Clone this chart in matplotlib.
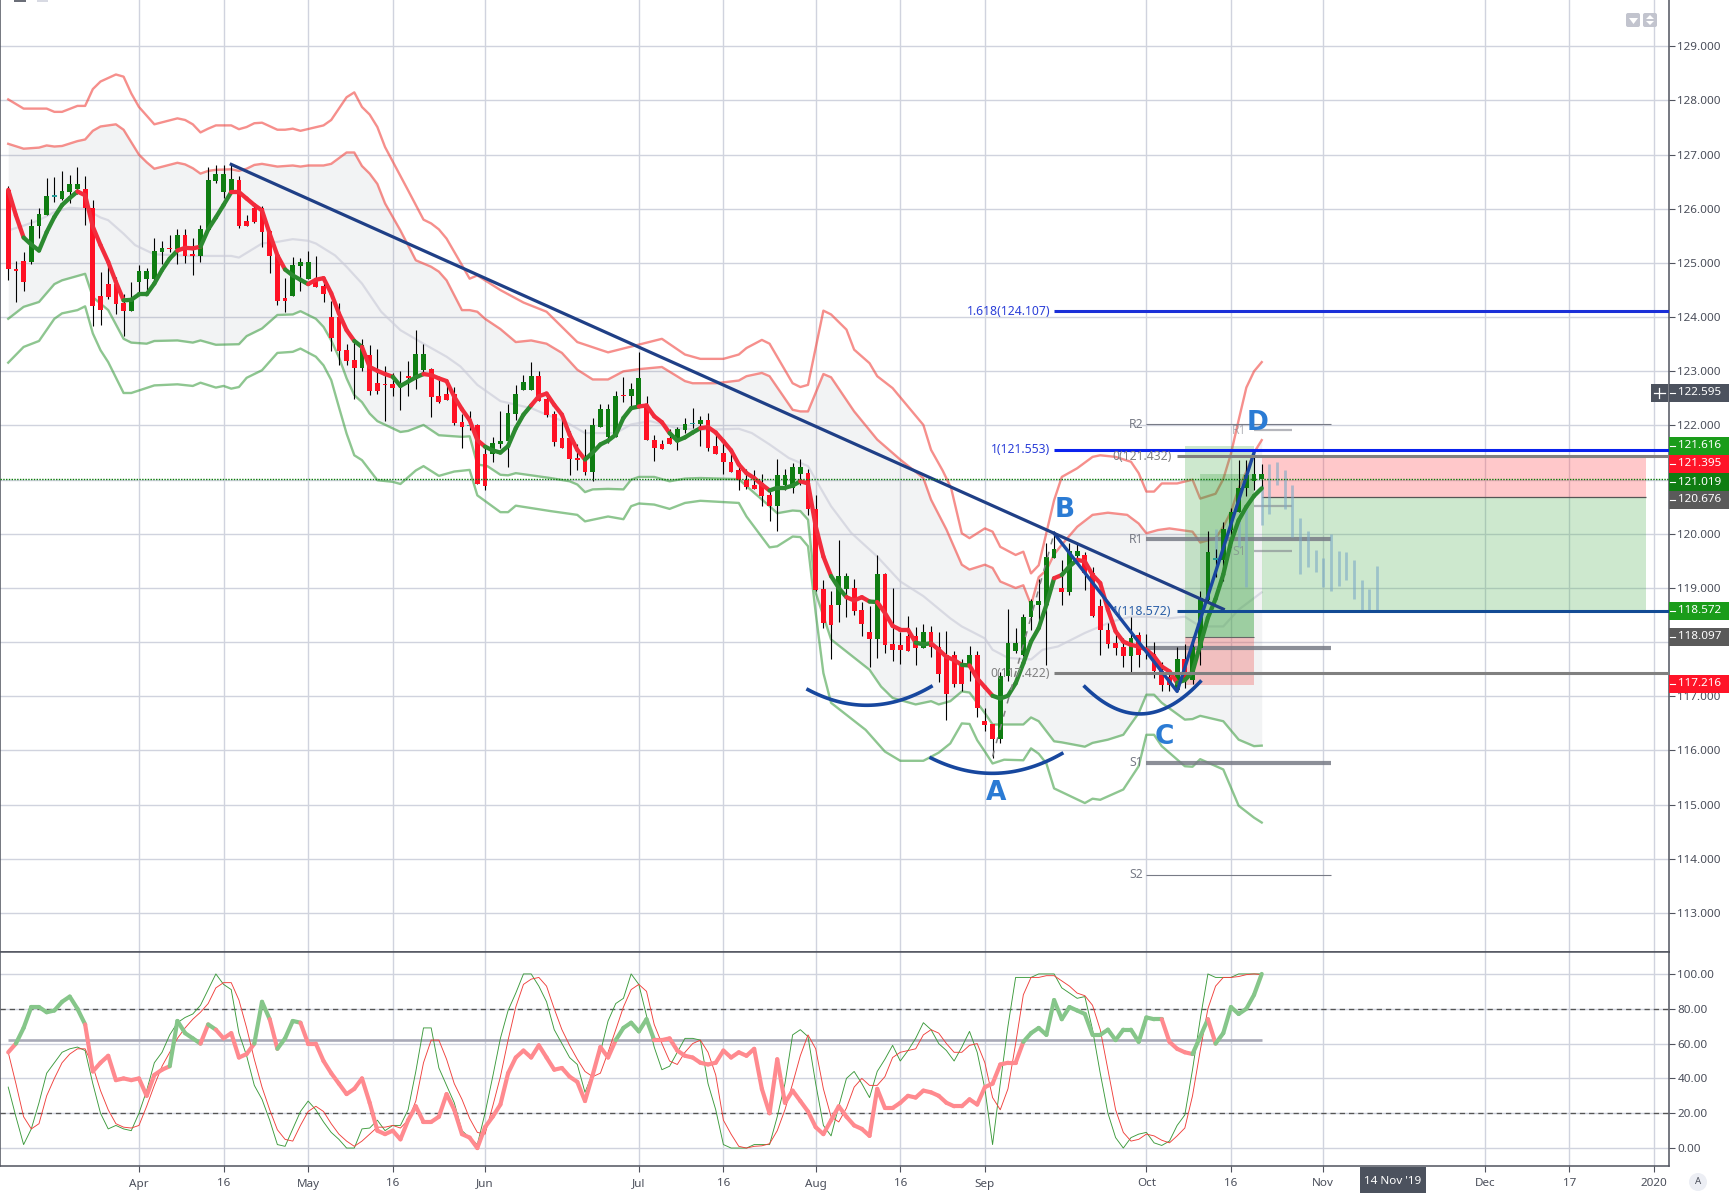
import numpy as np
import matplotlib
matplotlib.use('Agg')
import matplotlib.pyplot as plt
from matplotlib.collections import LineCollection
from matplotlib.patches import Rectangle, FancyBboxPatch, Polygon, Circle
from matplotlib.transforms import Affine2D

first_bar = -17

opens = [126.35,124.88,125.03,125.02,125.68,125.89,126.22,126.18,126.31,126.36,
         126.37,126.02,124.39,124.62,124.62,124.26,124.11,124.65,124.71,124.70,
         125.20,125.27,125.25,125.51,125.14,125.12,125.60,126.51,126.31,126.31,
         126.54,125.77,126.02,126.02,125.59,125.14,124.35,124.39,124.95,124.70,
         124.71,124.57,124.00,124.00,123.39,123.21,123.06,123.30,122.78,122.76,
         122.76,122.75,122.89,122.85,123.02,123.04,122.54,122.59,122.59,122.06,
         121.99,122.01,121.48,121.48,121.66,121.71,122.22,122.66,122.66,122.92,
         122.48,122.22,121.76,121.76,121.38,121.37,121.15,121.97,121.78,121.78,
         122.55,122.54,122.37,122.38,121.74,121.66,121.76,121.71,121.92,122.02,
         122.02,122.11,121.63,121.49,121.33,121.17,121.00,120.91,120.94,120.71,
         120.51,120.91,120.85,121.11,121.12,120.46,118.99,118.69,118.68,118.99,
         119.00,118.60,118.19,118.06,119.25,117.97,117.94,118.12,118.12,117.90,
         118.19,117.91,117.77,117.77,117.57,117.55,117.77,116.54,116.49,116.22,
         117.37,117.84,117.77,118.46,118.69,118.69,119.56,119.00,118.93,119.59,
         119.61,119.27,118.67,118.23,117.98,117.91,117.75,118.14,117.86,117.78,
         117.46,117.36,117.11,117.68,117.31,117.90,118.78,119.52,119.52,120.07,
         120.41,120.84,120.98,121.02]
highs = [126.43,125.03,125.20,125.82,126.02,126.56,126.58,126.69,126.62,126.78,
         126.60,126.17,124.83,125.01,124.74,124.42,124.64,124.96,124.90,125.46,
         125.40,125.51,125.62,125.62,125.46,125.71,126.77,126.80,126.80,126.82,
         126.60,125.89,126.07,126.06,125.60,125.23,124.72,125.11,125.09,125.23,
         125.12,124.65,124.29,124.26,123.51,123.55,123.60,123.48,123.41,123.09,
         122.96,123.00,123.19,123.76,123.51,123.07,122.84,122.81,122.71,122.21,
         122.26,122.02,121.64,121.79,122.27,122.40,122.74,122.94,123.17,123.01,
         122.57,122.27,122.14,121.89,121.66,121.94,122.14,122.40,122.40,122.64,
         122.90,122.78,123.36,122.55,121.82,121.74,121.94,121.98,122.14,122.32,
         122.17,122.23,121.86,121.68,121.49,121.25,121.20,121.18,121.11,120.82,
         121.38,121.20,121.31,121.38,121.20,120.72,119.14,118.95,119.89,119.28,
         119.17,118.75,118.66,119.60,119.28,119.00,118.18,118.49,118.28,118.34,
         118.30,118.18,118.21,117.84,117.69,117.93,117.83,116.78,116.49,117.44,
         118.61,118.26,118.52,118.79,119.16,119.83,120.01,119.52,119.83,119.83,
         119.66,119.38,118.79,118.35,118.22,118.07,118.47,118.18,118.15,118.01,
         117.64,117.46,117.91,117.97,118.11,118.94,120.06,119.72,120.22,120.47,
         121.36,121.36,121.50,121.29]
lows = [124.68,124.28,124.48,124.99,125.47,125.89,126.13,126.17,126.11,126.28,
        125.71,123.84,123.85,124.34,124.05,123.65,124.11,124.44,124.44,124.62,
        124.98,125.20,124.99,125.00,124.78,125.01,125.60,126.48,126.20,126.27,
        125.65,125.68,125.73,125.30,124.82,124.22,124.10,124.39,124.48,124.70,
        124.55,124.28,123.37,123.11,123.11,122.49,123.01,122.56,122.59,122.08,
        122.55,122.28,122.55,122.67,122.93,122.16,122.42,122.47,122.01,121.59,
        121.91,120.92,120.80,121.32,121.58,121.23,122.11,122.65,122.66,122.46,
        122.15,121.62,121.59,121.08,121.18,121.09,120.97,121.97,121.68,121.78,
        122.43,122.29,122.37,121.73,121.34,121.57,121.65,121.54,121.87,121.95,
        121.63,121.52,121.48,121.11,121.15,120.80,120.82,120.82,120.51,120.23,
        120.06,120.80,120.75,120.91,120.35,118.94,118.27,117.68,118.38,118.46,
        118.51,118.11,117.54,117.71,117.80,117.65,117.60,117.83,117.58,117.89,
        117.73,117.27,116.56,117.17,117.10,117.28,116.62,116.36,115.86,116.14,
        117.29,117.80,117.74,118.23,118.29,117.57,119.56,118.69,118.87,119.45,
        118.97,118.47,117.77,117.90,117.77,117.54,117.45,117.55,117.69,117.34,
        117.09,117.09,117.09,117.15,117.22,117.58,118.75,119.21,119.12,119.76,
        120.41,120.69,120.80,120.84]
closes = [124.88,124.85,124.65,125.69,125.90,126.23,126.22,126.32,126.45,126.45,
          126.02,124.21,124.13,124.37,124.24,124.11,124.34,124.85,124.85,125.22,
          125.27,125.25,125.51,125.12,125.13,125.62,126.54,126.64,126.64,126.55,
          125.68,125.68,125.75,125.57,125.12,124.29,124.29,124.96,125.01,125.01,
          124.55,124.42,123.61,123.37,123.19,123.06,123.49,122.63,122.63,122.74,
          122.70,122.75,122.88,123.32,123.32,122.53,122.43,122.47,122.05,121.98,
          121.99,120.92,120.89,121.68,121.72,122.23,122.59,122.81,122.92,122.46,
          122.20,121.69,121.59,121.38,121.37,121.15,122.00,122.31,122.31,122.55,
          122.54,122.68,122.88,121.73,121.58,121.57,121.65,121.94,122.02,122.02,
          122.11,121.59,121.48,121.32,121.15,120.99,120.86,120.82,120.69,120.51,
          121.09,121.09,121.23,121.23,120.45,118.97,118.35,118.32,119.23,119.23,
          118.58,118.34,118.06,119.25,117.95,117.86,117.86,117.83,117.90,118.19,
          117.91,117.41,117.04,117.23,117.23,117.77,116.79,116.47,116.22,117.38,
          117.98,117.98,118.46,118.76,118.76,119.58,119.72,118.93,119.68,119.68,
          119.27,118.49,118.22,117.97,117.90,117.75,118.07,117.77,117.85,117.46,
          117.20,117.20,117.68,117.31,117.91,118.81,119.66,119.52,120.08,120.41,
          120.84,121.08,121.10,121.10]

ma_line = [126.35,125.88,125.47,125.34,125.23,125.57,125.85,126.07,126.20,126.32,
           126.25,125.67,125.33,125.02,124.65,124.31,124.32,124.42,124.42,124.62,
           124.87,125.08,125.23,125.28,125.27,125.30,125.62,125.84,126.07,126.31,
           126.31,126.19,126.07,125.97,125.54,125.14,124.88,124.77,124.69,124.61,
           124.69,124.72,124.44,124.07,123.76,123.56,123.45,123.08,123.01,122.95,
           122.90,122.73,122.81,122.89,122.95,122.93,122.87,122.82,122.53,122.30,
           122.10,121.73,121.61,121.54,121.50,121.62,121.95,122.20,122.37,122.54,
           122.59,122.38,122.20,121.83,121.55,121.37,121.50,121.65,121.72,121.83,
           122.14,122.32,122.35,122.37,122.17,122.06,121.86,121.72,121.78,121.87,
           121.95,121.97,121.87,121.71,121.54,121.28,121.12,121.03,120.91,120.80,
           120.85,120.85,120.89,120.97,120.93,120.14,119.58,119.22,119.00,118.83,
           118.77,118.83,118.75,118.74,118.54,118.30,118.23,118.23,117.99,117.96,
           117.98,117.86,117.73,117.67,117.58,117.57,117.33,117.17,117.01,116.96,
           117.01,117.24,117.61,118.01,118.26,118.69,119.18,119.24,119.40,119.52,
           119.49,119.24,119.09,118.60,118.20,118.01,117.95,117.92,117.86,117.74,
           117.55,117.46,117.25,117.30,117.45,117.95,118.45,118.80,119.25,119.85,
           120.25,120.50,120.70,120.84]
ma_green_spans = [(-15,-8),(-2,5),(8,12),(19,22),(28,29),(33,37),(45,51),(58,65),(69,73),
                  (82,86),(90,92),(95,96),(101,103),(107,108),(111,119),(120,122),(135,146)]

outer_up_x = [-17,-15,-12,-11,-10,-8,-7,-6,-5,-3,-2,-1,0,1,2,5,6,7,8,9,10,12,13,14,15,16,18,19,20,21,24,25,27,28,29,30,31,32,
              35,37,38,39,40,42,43,44,47,50,53,55,57,61,68,71,73,76,78,79,81,82,85,86,87,89,90,92,93,95,96,98,102,103,104.5,
              105.6,107,108,110,111,112,114,115,116,117,119,120,122,124,125,127,129,130,131,132,133,135,137,138,140,141,142,143,144,145,146]
outer_up = [128.02,127.85,127.85,127.79,127.79,127.90,127.90,128.21,128.35,128.48,128.44,128.13,127.88,127.72,127.56,127.67,127.64,127.56,127.41,127.48,127.54,127.54,127.47,127.51,127.58,127.59,127.46,127.46,127.48,127.44,127.54,127.64,128.06,128.15,127.88,127.74,127.51,127.14,
            126.34,125.80,125.73,125.62,125.45,124.96,124.71,124.77,124.50,124.27,124.10,123.82,123.54,123.35,123.60,123.31,123.23,123.23,123.31,123.43,123.58,123.51,122.78,122.71,122.75,124.12,124.05,123.77,123.40,123.15,122.91,122.69,122.01,121.55,121.17,
            120.85,120.01,119.92,120.10,120.04,119.76,119.61,119.67,119.27,119.42,120.62,121.05,121.21,121.42,121.45,121.42,121.33,121.12,120.78,120.78,120.93,120.93,121.00,120.65,120.74,121.01,121.48,122.10,122.70,123.00,123.17]

inner_up_x = [-17,-15,-13,-12,-11,-10,-8,-7,-6,-5,-3,-2,-1,0,1,2,5,6,7,8,9,10,12,13,14,15,16,18,20,21,22,24,25,27,28,29,30,31,32,34,36,38,39,40,42,43,44,45,47,49,51,53,55,57,59,61,63,65,68,71,72,75,78,79,81,82,85,86,87,89,90,93,96,99,102,103,105,107,108,110,111,112,114,115,116,117,118,119,120,122,124,126,128.5,130,131,132.5,134,137,138,140,141,142,143,144,145,146]
inner_up = [127.20,127.11,127.13,127.17,127.15,127.16,127.25,127.28,127.44,127.52,127.56,127.46,127.23,127.00,126.86,126.74,126.85,126.82,126.75,126.65,126.70,126.72,126.73,126.70,126.74,126.81,126.83,126.78,126.80,126.78,126.80,126.80,126.83,127.04,127.04,126.79,126.65,126.46,126.10,125.60,125.05,124.93,124.84,124.68,124.13,124.13,124.10,123.97,123.78,123.54,123.57,123.51,123.34,123.03,122.85,122.85,123.00,123.04,123.08,122.82,122.78,122.78,122.83,122.91,122.97,122.91,122.29,122.26,122.26,122.95,122.89,122.26,121.74,121.37,121.03,120.63,120.08,119.43,119.34,119.43,119.37,119.12,119.00,119.05,118.69,119.20,119.33,119.62,119.80,120.13,120.35,120.39,120.35,120.19,120.01,120.07,120.10,120.04,119.84,119.92,120.13,120.41,120.84,121.15,121.50,121.73]

inner_low_x = [-17,-15,-13,-11,-10,-7,-6,-5,-4,-2,-1,1,2,5,7,8,10,13,14,16,18,20,21,23,24,25,26,27,28,29,30,31,34,35,37,39,42,43,44,45.3,47,48,49,53.5,56,57,58,59,61,63,64,65,67,69,71,73,78,79,82,83,85,86,87,88,90,95,96.5,98,101,103,104,105.5,107,108,110,111,115,116,117,119,120,123,124,126,128,130,131,132,133,136,137,138,141,143,145,146]
inner_low = [123.97,124.19,124.28,124.61,124.68,124.80,124.37,124.25,124.13,123.60,123.53,123.51,123.56,123.57,123.53,123.57,123.49,123.50,123.65,123.79,124.04,124.05,124.11,123.97,123.82,123.57,123.26,122.87,122.56,122.43,122.22,122.08,121.88,121.90,122.01,121.82,121.79,121.80,121.28,121.25,121.09,121.08,121.12,121.03,120.97,120.91,120.77,120.82,120.83,120.82,121.00,121.05,121.05,120.97,121.02,121.03,121.01,120.88,120.51,120.38,120.43,120.42,120.26,118.91,118.05,117.49,117.18,116.97,116.85,116.91,116.85,116.91,117.09,117.07,116.69,116.48,116.48,116.61,116.54,116.17,116.15,116.07,116.14,116.20,116.29,116.69,117.03,117.03,116.88,116.57,116.58,116.64,116.54,116.20,116.08,116.09]

outer_low_x = [-17,-15,-13,-11,-10,-8,-7,-6,-5,-4,-2,-1,2,5,7,8,10,11,12,13,14,16,18,20,21,23,24,25,26,27,28,29,31,33,34,36,37,39,41,43,44,47,48,49,53.5,56,57,58,61,63,64,65,67,69,71,73,78,79,82,83,85,86,87,88,89,90,94.5,97,99,102,104,105.5,107,108,109,110,111,112.5,115,116,117,118,119,123,124,125,128,130,131,132,133,136,137,138,141,143,145,146]
outer_low = [123.16,123.45,123.56,123.97,124.07,124.13,124.20,123.70,123.39,123.17,122.60,122.60,122.74,122.76,122.73,122.79,122.70,122.73,122.68,122.71,122.88,123.02,123.34,123.36,123.42,123.27,123.11,122.84,122.34,121.85,121.45,121.36,120.99,120.96,120.92,121.17,121.25,121.07,121.15,121.18,120.71,120.40,120.40,120.52,120.42,120.37,120.35,120.23,120.32,120.27,120.51,120.56,120.54,120.46,120.57,120.61,120.57,120.32,119.75,119.77,119.95,119.94,119.77,118.54,117.43,116.88,116.38,115.98,115.81,115.81,115.96,116.13,116.50,116.49,116.19,115.98,115.76,115.83,115.82,116.04,115.94,115.76,115.30,115.03,115.11,115.09,115.28,115.71,116.29,116.29,116.08,115.71,115.70,115.84,115.65,114.98,114.76,114.67]

mid_x = [-17,-15,-13,-11,-9,-7,-5,-4,-2,-0.5,2,7,12,13,14.5,16,18,20,22,23,25.5,27,29,31.5,34,37,40,41.8,44,47,51,53,55.7,58,62,64,66.5,70,73.5,78,79.7,82,84.5,87,88,90,92.6,96,99,102,105.5,107,110,111,113,116,117.5,119.5,123,126.5,129,131,134,136,138,141,143,146]
mid_band = [125.60,125.69,125.79,125.94,126.02,126.00,125.84,125.79,125.54,125.33,125.16,125.13,125.13,125.10,125.23,125.36,125.39,125.44,125.41,125.36,125.14,124.93,124.62,124.10,123.76,123.51,123.27,123.09,122.75,122.45,122.32,122.20,122.05,121.86,121.86,122.02,122.08,121.95,121.92,121.94,121.86,121.65,121.40,121.25,121.00,120.51,120.02,119.58,119.12,118.85,118.44,118.29,118.07,117.86,117.71,117.68,117.86,117.92,118.17,118.38,118.47,118.47,118.44,118.47,118.29,118.29,118.60,118.92]

trend_x = [12, 141]
trend_y = [126.82, 118.61]
zigzag_x = [119, 135, 145]
zigzag_y = [120.01, 117.09, 121.50]
xabcd_x = [111, 119, 135, 145]
xabcd_y = [115.89, 120.01, 117.09, 121.50]

arc_left_x = [87, 90.4, 95, 99, 103]
arc_left_y = [117.12, 116.93, 116.83, 116.93, 117.18]
arc_a_x = [103, 106.4, 110.7, 114.6, 120]
arc_a_y = [115.88, 115.64, 115.57, 115.67, 115.93]
arc_c_x = [123, 126, 130, 133, 138]
arc_c_y = [117.21, 116.79, 116.66, 116.81, 117.25]

# projected bars (idx, top, bottom)
ghost_x = [140,143,144,146,147,148,149,150,151,152,153,154,155,156,157,158,159,160,161]
ghost_top = [120.08,120.27,120.51,120.91,121.28,121.33,121.17,120.90,120.30,120.06,119.71,119.56,119.99,119.69,119.67,119.51,119.15,118.99,119.41]
ghost_bot = [119.49,119.76,119.02,120.17,120.36,120.90,120.45,119.94,119.25,119.38,119.29,119.01,118.94,119.03,119.15,118.80,118.57,118.57,118.57]

stoch_slow = [55,60,69,81,81,78,79,84,87,80,71,44,49,53,39,40,39,40,30,42,
              45,47,73,66,63,60,71,68,63,66,52,54,60,84,74,57,63,73,72,60,
              60,50,43,37,31,34,40,26,10,8,10,5,16,24,15,15,18,31,22,8,
              6,0,12,18,25,43,52,56,52,59,52,45,46,41,38,27,42,58,52,62,
              69,72,67,74,62,62,63,56,53,52,49,48,49,56,52,55,53,57,34,20,
              51,26,33,27,21,12,8,16,24,18,13,11,7,34,23,23,26,30,29,33,
              32,30,26,24,24,28,25,35,37,48,49,49,61,66,69,65,85,74,81,79,
              77,65,65,68,62,68,68,61,75,74,74,61,57,55,54,64,74,60,66,81,
              77,80,88,100]
stoch_green_spans = [(-16,-7),(4,8),(9,10),(15,17),(18,21),(62,67),(115,133),(137,139),(140,146)]
stoch_k = [35,18,2,11,26,43,49,55,57,58,56,37,20,11,13,11,10,20,33,49,
           55,65,72,75,77,82,91,100,94,91,66,53,36,28,16,2,1,11,21,27,
           22,15,9,5,0,0,11,11.5,16,10,13,13,22,44,69,69,46,36,26,10,
           6,2,20,41,63,79,89,100,100,93,84,68,60,52,48,32,43,55,73,83,
           86,100,94,76,58,45,47,55,63,63,62,37,22,2,0,0,0,2,2,2,
           18,37,65,68,64,37,13,7,24,40,44,37,29,44,51,59,50,56,63,72,
           68,60,56,50,58,67,55,34,2,37,70,98,98,98,100,100,100,92,89,86,
           87,68,43,20,6,0,6,8,9,3,1.5,4,13,19,45,74,100,98,98,98,
           100,100,100,100]
stoch_d = [55,37,18,11,14,30,40,49,54,57,57,47,33,22,14,12,11.5,13,24,36,
           47,55,63,69,74,78,83,92,95,95,85,69,51,35,22,10.5,5,4,13,21,
           24,21,14,8,4,1,4,8,12,12,13,11.5,16,27,49,62,62,51,37,28,
           17,9,8,24,41,62,81,94,97,98,93,80,68,59,51,44,41,43,55,68,
           81,91,94,90,71,60,50,48,55,60,62,55,42,16,8,1,0,1,1.3,2.5,
           10,22,37,53,65,57,34,18,15,23,35,40,36,36,41,52,55,56,57,65,
           68,66,60,55,55,59,60,49,29,22,34,60,88,98,98,99,99,96,93,89,
           87.5,82,68,45,22,9,4,5,8,7,4.5,3,7,11.5,30,56,80,93,98,98,
           98.5,99.6,100,99.6]
stoch_mean_level = 62.3

x_tick_pos = [0, 11, 22, 33, 45, 65, 76, 88, 99, 110, 131, 142, 154, 175, 186, 197]
x_tick_txt = ['Apr', '16', 'May', '16', 'Jun', 'Jul', '16', 'Aug', '16', 'Sep', 'Oct', '16', 'Nov', 'Dec', '17', '2020']

axis_labels = ['122.595', '121.616', '121.395', '121.019', '120.676', '118.572', '118.097', '117.216']
axis_label_y = [392.7, 446, 464, 482, 500, 610.7, 636.7, 683.7]
axis_label_col = ['#4c525e', '#1a9c1a', '#ff1428', '#0f7d12', '#5a5a5a', '#1a9c1a', '#5a5a5a', '#ff1428']

W, H = 1731, 1193
plt.rcParams['font.family'] = ['Noto Sans', 'DejaVu Sans']
fig = plt.figure(figsize=(W / 100, H / 100), dpi=100)
px = Affine2D().scale(1 / W, -1 / H).translate(0, 1) + fig.transFigure

ax = fig.add_axes([0, (H - 952) / H, 1669 / W, 952 / H])
ax2 = fig.add_axes([0, (H - 1166) / H, 1669 / W, 214 / H])

bars = np.arange(first_bar, first_bar + len(closes))
grid_col = '#d0d3de'
axis_col = '#50535e'
text_col = '#4a4e5a'
xlim = (-18.07, 198.96)


def split_colors(ax_, xs, ys, spans, green, red, lw, z):
    segs = []
    cols = []
    for i in range(len(xs) - 1):
        segs.append([(xs[i], ys[i]), (xs[i + 1], ys[i + 1])])
        is_green = any(a <= xs[i] and xs[i + 1] <= b for a, b in spans)
        cols.append(green if is_green else red)
    ax_.add_collection(LineCollection(segs, colors=cols, linewidths=lw, capstyle='round', zorder=z))


# price pane
ax.set_xlim(*xlim)
ax.set_ylim(112.28, 129.855)
ax.set_yticks(range(113, 130))
ax.set_yticklabels(['%.3f' % v for v in range(113, 130)])
ax.yaxis.tick_right()
ax.set_xticks(x_tick_pos)
ax.tick_params(axis='x', length=0, labelbottom=False)
ax.tick_params(axis='y', length=4, width=0.8, color=axis_col, labelsize=8.4, labelcolor=text_col, pad=2)
ax.grid(True, color=grid_col, linewidth=1.0, zorder=0)
ax.set_axisbelow(True)
ax.spines['top'].set_visible(False)
for s in ['left', 'right', 'bottom']:
    ax.spines[s].set_color(axis_col)
    ax.spines[s].set_linewidth(1.1)

# channel fill and bands
grid_x = np.arange(first_bar, bars[-1] + 1)
ax.fill_between(grid_x, np.interp(grid_x, inner_low_x, inner_low), np.interp(grid_x, inner_up_x, inner_up),
                color='#787b86', alpha=0.09, linewidth=0, zorder=1)
ax.plot(mid_x, mid_band, color='#c8c9d6', alpha=0.6, linewidth=1.6, zorder=2)
for xs, ys, c in [(outer_up_x, outer_up, '#f0453f'), (inner_up_x, inner_up, '#f0453f'),
                  (inner_low_x, inner_low, '#43a047'), (outer_low_x, outer_low, '#43a047')]:
    ax.plot(xs, ys, color=c, alpha=0.6, linewidth=1.7, zorder=3)

# position boxes
ax.add_patch(Rectangle((136, 118.097), 9, 121.616 - 118.097, color='#4caf50', alpha=0.28, linewidth=0, zorder=4))
ax.add_patch(Rectangle((138, 118.097), 7, 121.10 - 118.097, color='#2e9a33', alpha=0.25, linewidth=0, zorder=4))
ax.add_patch(Rectangle((136, 117.216), 9, 118.097 - 117.216, color='#ef5350', alpha=0.32, linewidth=0, zorder=4))
ax.hlines(118.097, 136, 145, color='#666666', linewidth=0.8, zorder=4)
ax.add_patch(Rectangle((146, 120.676), 50, 121.395 - 120.676, color='#ff4a50', alpha=0.3, linewidth=0, zorder=4))
ax.add_patch(Rectangle((146, 118.572), 50, 120.676 - 118.572, color='#4caf50', alpha=0.28, linewidth=0, zorder=4))
ax.hlines(120.676, 146, 196, color='#555555', linewidth=0.9, zorder=4)

# pivots
for y0, lw in [(122.02, 0.8), (119.90, 3.0), (117.89, 3.0), (115.77, 3.0), (113.71, 0.8)]:
    ax.hlines(y0, 131, 155, color='#787b86', alpha=0.85 if lw > 1 else 1, linewidth=lw, zorder=5)
for y0 in [121.91, 120.51, 119.68]:
    ax.hlines(y0, 145, 150, color='#787b86', alpha=0.55, linewidth=1.6, zorder=5)
for txt, y0 in [('R2', 122.02), ('R1', 119.90), ('S1', 115.77), ('S2', 113.71)]:
    ax.text(130.6, y0, txt, ha='right', va='center', fontsize=8.8, color='#787b86', zorder=8)
for txt, y0 in [('R1', 121.91), ('S1', 119.68)]:
    ax.text(144, y0, txt, ha='right', va='center', fontsize=8.8, color='#787b86', alpha=0.55, zorder=8)

# ghost bars
ax.vlines(ghost_x, ghost_bot, ghost_top, color='#7fabc6', alpha=0.62, linewidth=2.0, zorder=5)

# candles
ax.vlines(bars, lows, highs, color='#000000', linewidth=0.8, zorder=6)
for i, o, c in zip(bars, opens, closes):
    col = '#0f7d12' if c > o else ('#ff1124' if c < o else '#2a9d9a')
    h = max(abs(c - o), 0.028)
    ax.add_patch(Rectangle((i - 0.31, min(o, c)), 0.62, h, facecolor=col, linewidth=0, zorder=7))

# thick line
split_colors(ax, list(bars), ma_line, ma_green_spans, '#2c8a30', '#f22c3c', 3.1, 8)

# xabcd and trend
ax.plot(xabcd_x, xabcd_y, color='#808080', linewidth=1.1, dashes=(4, 5), zorder=8)
ax.plot(zigzag_x, zigzag_y, color='#1a47a0', linewidth=2.4, zorder=9)
ax.plot(trend_x, trend_y, color='#1f3f86', linewidth=2.3, zorder=9)
for ax_, ay_ in [(arc_left_x, arc_left_y), (arc_a_x, arc_a_y), (arc_c_x, arc_c_y)]:
    fit = np.polyfit(ax_, ay_, 2)
    xs = np.linspace(ax_[0], ax_[-1], 40)
    ax.plot(xs, np.polyval(fit, xs), color='#17479e', linewidth=2.6, zorder=9)

# fib levels
ax.hlines(124.107, 119, xlim[1], color='#1a2fd8', linewidth=2.2, zorder=9)
ax.hlines(121.553, 119, xlim[1], color='#0a22ee', linewidth=2.2, zorder=9)
ax.hlines(121.432, 135, xlim[1], color='#808080', linewidth=2.2, zorder=9)
ax.hlines(118.572, 135, xlim[1], color='#134b94', linewidth=2.2, zorder=9)
ax.hlines(117.422, 119, xlim[1], color='#808080', linewidth=2.2, zorder=9)
ax.text(118.5, 124.107, '1.618(124.107)', ha='right', va='center', fontsize=8.8, color='#2b3fd8', zorder=10)
ax.text(118.5, 121.553, '1(121.553)', ha='right', va='center', fontsize=8.8, color='#2b3fd8', zorder=10)
ax.text(134.3, 121.432, '0(121.432)', ha='right', va='center', fontsize=8.8, color='#808080', zorder=10)
ax.text(134.3, 118.572, '1(118.572)', ha='right', va='center', fontsize=8.8, color='#2b5fa8', zorder=10)
ax.text(118.5, 117.422, '0(117.422)', ha='right', va='center', fontsize=8.8, color='#808080', zorder=10)

ax.hlines(121.019, xlim[0], xlim[1], color='#067a06', linewidth=1.0, linestyles=(0, (1.0, 1.0)), zorder=9)

for t, xp, yp in [('A', 996, 793), ('B', 1065, 510), ('C', 1164, 737), ('D', 1258, 423)]:
    fig.text(xp / W, 1 - yp / H, t, ha='center', va='center', fontsize=19, fontweight='bold',
             color='#2b7bd4', family='DejaVu Sans', zorder=6)

# stochastic pane
ax2.set_xlim(*xlim)
ax2.set_ylim(-10.3, 112.6)
ax2.set_yticks(range(0, 101, 20))
ax2.set_yticklabels(['%.2f' % v for v in range(0, 101, 20)])
ax2.yaxis.tick_right()
ax2.set_xticks(x_tick_pos)
ax2.set_xticklabels(x_tick_txt)
ax2.tick_params(axis='x', length=4, width=0.8, color=axis_col, labelsize=8.4, labelcolor=text_col, pad=5)
ax2.tick_params(axis='y', length=4, width=0.8, color=axis_col, labelsize=8.4, labelcolor=text_col, pad=2)
ax2.grid(True, color=grid_col, linewidth=1.0, zorder=0)
ax2.set_axisbelow(True)
for s in ['top', 'left', 'right', 'bottom']:
    ax2.spines[s].set_color(axis_col)
    ax2.spines[s].set_linewidth(1.1)
ax2.hlines([80, 20], xlim[0], xlim[1], color='#555555', linewidth=0.95, linestyles=(0, (4, 3)), zorder=2)
ax2.hlines(stoch_mean_level, first_bar, bars[-1], color='#a9aab8', linewidth=1.9, zorder=2)
ax2.plot(bars, stoch_k, color='#3c9a3c', linewidth=0.65, zorder=3)
ax2.plot(bars, stoch_d, color='#f0403c', linewidth=0.65, zorder=3)
split_colors(ax2, list(bars), stoch_slow, stoch_green_spans, '#86c68a', '#ff8a8f', 3.0, 4)

# right axis price tags
for txt, yp, col in zip(axis_labels, axis_label_y, axis_label_col):
    fig.add_artist(Rectangle((1669.5, yp - 9), 60, 18, facecolor=col, edgecolor='none', transform=px, zorder=2))
    fig.add_artist(plt.Line2D([1670, 1675], [yp, yp], color='white', linewidth=0.8, transform=px, zorder=3))
    fig.text(1678 / W, 1 - yp / H, txt, ha='left', va='center', fontsize=8.4, color='white', zorder=4)

fig.add_artist(Rectangle((1651, 384), 17, 18, facecolor='#4c525e', edgecolor='none', transform=px, zorder=2))
fig.add_artist(plt.Line2D([1654, 1665], [393, 393], color='white', linewidth=0.9, transform=px, zorder=3))
fig.add_artist(plt.Line2D([1659.5, 1659.5], [388, 398], color='white', linewidth=0.9, transform=px, zorder=3))

# pane buttons
for x0 in [1626, 1643]:
    fig.add_artist(FancyBboxPatch((x0 + 1, 14), 12, 12, boxstyle='round,pad=1,rounding_size=2', facecolor='#c2c4ce',
                                  edgecolor='none', transform=px, zorder=2))
fig.add_artist(Polygon([(1629, 18), (1638, 18), (1633.5, 24)], facecolor='white', edgecolor='none', transform=px, zorder=3))
fig.add_artist(Polygon([(1646, 19), (1654, 19), (1650, 15)], facecolor='white', edgecolor='none', transform=px, zorder=3))
fig.add_artist(Polygon([(1646, 21), (1654, 21), (1650, 25)], facecolor='white', edgecolor='none', transform=px, zorder=3))

# legend remnants cut off at the top edge
for x0, w0, col in [(14, 12, '#6b6e78'), (37, 11, '#d8dae3')]:
    fig.add_artist(Rectangle((x0, 0), w0, 2, facecolor=col, edgecolor='none', transform=px, zorder=2))

# crosshair date tag
fig.add_artist(Rectangle((1360, 1167), 66, 26, facecolor='#4c525e', edgecolor='none', transform=px, zorder=2))
fig.text(1393 / W, 1 - 1182 / H, "14 Nov '19", ha='center', va='center', fontsize=8.4, color='white', zorder=4)

fig.add_artist(Circle((1698, 1182), 9, facecolor='#eceef4', edgecolor='none', transform=px, zorder=2))
fig.text(1698 / W, 1 - 1182 / H, 'A', ha='center', va='center', fontsize=7, color=text_col, zorder=4)

fig.savefig('out.png', dpi=100, facecolor='white')
